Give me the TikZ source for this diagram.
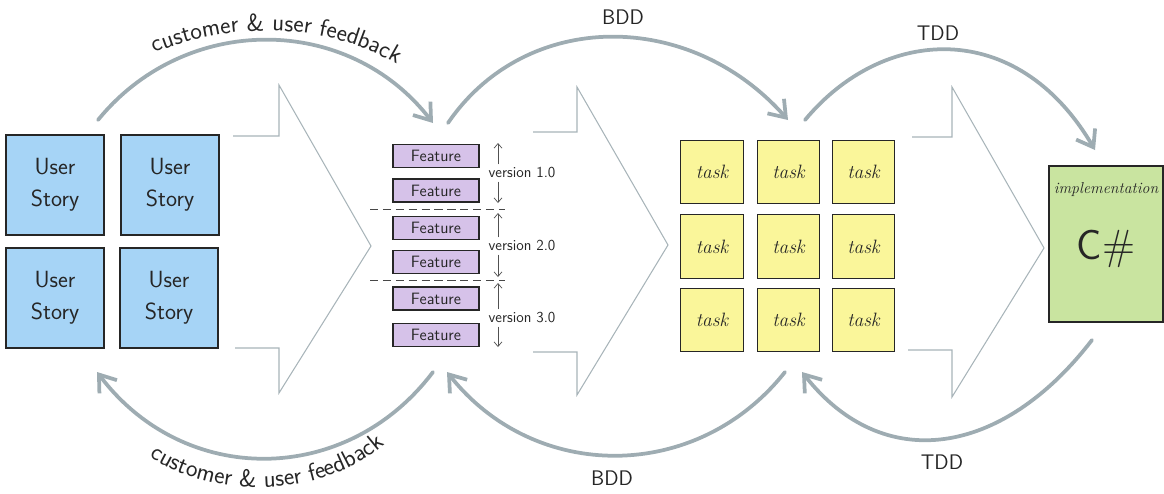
\documentclass[tikz,border=0pt]{standalone}
\usetikzlibrary{arrows.meta,decorations.text}

\definecolor{storyblue}{RGB}{166,212,246}
\definecolor{featpurple}{RGB}{214,194,233}
\definecolor{taskyellow}{RGB}{250,246,154}
\definecolor{implgreen}{RGB}{201,228,160}
\definecolor{loopgray}{RGB}{158,172,178}
\definecolor{chevron}{RGB}{168,180,185}
\definecolor{ink}{RGB}{38,38,38}

\tikzset{
  card/.style={draw=ink, line width=1.1pt, inner sep=0pt, text=ink},
  story/.style={card, fill=storyblue, minimum width=2.94cm, minimum height=3cm,
    align=center, font=\sffamily\fontsize{20}{27}\selectfont},
  feat/.style={card, fill=featpurple, minimum width=2.58cm, minimum height=0.69cm,
    font=\sffamily\fontsize{14}{14}\selectfont},
  taskbox/.style={card, fill=taskyellow, minimum width=1.88cm, minimum height=1.9cm,
    font=\itshape\fontsize{16.5}{16.5}\selectfont},
  impl/.style={card, fill=implgreen, minimum width=3.42cm, minimum height=4.68cm},
  loop/.style={draw=loopgray, line width=3.2pt, line cap=round,
    -{Straight Barb[length=4.6mm,width=6.6mm]}},
  chev/.style={draw=chevron, line width=0.9pt, line join=miter},
  vtext/.style={text=ink, inner sep=1pt, font=\sffamily\fontsize{13}{13}\selectfont},
  varrow/.style={draw=ink!80, line width=0.6pt, -{Straight Barb[length=1.4mm,width=2.4mm]}},
  sep/.style={draw=ink!85, line width=0.7pt, dash pattern=on 7pt off 4pt},
  looplabel/.style={text=ink, inner sep=0pt, font=\sffamily\fontsize{18}{18}\selectfont},
  arclabel/.style={decorate, decoration={text along path, text align=center,
    text color=ink, text={|\sffamily\fontsize{21}{21}\selectfont|#1}}},
}

\begin{document}
\begin{tikzpicture}[x=0.03cm, y=-0.03cm]
  \useasboundingbox (0,0) rectangle (1164,493);

  % block arrows between the stages
  \draw[chev] (233,136) -- (279,136) -- (279,85) -- (371,246) -- (279,393) -- (279,348) -- (235,348);
  \draw[chev] (533,132) -- (577,132) -- (577,87) -- (668,245) -- (577,395) -- (577,352) -- (533,352);
  \draw[chev] (912,137) -- (952,137) -- (952,87) -- (1044,248) -- (952,397) -- (952,350) -- (908,350);

  % user stories
  \node[story] (s1) at (55,185) {User\\Story};
  \node[story] (s2) at (170,185) {User\\Story};
  \node[story] (s3) at (55,298) {User\\Story};
  \node[story] (s4) at (169,298) {User\\Story};

  % features grouped into versions
  \node[feat] (f1) at (436,156) {Feature};
  \node[feat] (f2) at (436,190.5) {Feature};
  \node[feat] (f3) at (436,228) {Feature};
  \node[feat] (f4) at (436,262) {Feature};
  \node[feat] (f5) at (436,298.5) {Feature};
  \node[feat] (f6) at (436,335) {Feature};

  \draw[sep] (370,209) -- (505,209);
  \draw[sep] (370,280) -- (505,280);

  \node[vtext] (v1) at (522,173) {version 1.0};
  \node[vtext] (v2) at (522,246) {version 2.0};
  \node[vtext] (v3) at (522,318) {version 3.0};
  \foreach \v/\top/\bot in {v1/143/203, v2/213/277, v3/283/347} {
    \draw[varrow] (\v.north -| 498,0) ++(0,-2) -- (498,\top);
    \draw[varrow] (\v.south -| 498,0) ++(0,2) -- (498,\bot);
  }

  % tasks
  \foreach \c/\x in {1/712,2/788.5,3/863.5} {
    \foreach \r/\y in {1/172,2/246.5,3/320} {
      \node[taskbox] (t\r\c) at (\x,\y) {task};
    }
  }

  % implementation
  \node[impl] (impl) at (1106,244) {};
  \node[text=ink, font=\itshape\fontsize{13.5}{13.5}\selectfont] (impltitle) at (1106,190) {implementation};
  \node[text=ink, font=\sffamily\fontsize{36}{36}\selectfont] (cs) at (1106,249) {C\#};

  % loop end points
  \coordinate (a0) at (98,120);   \coordinate (a1) at (433,123);
  \coordinate (b0) at (448,123);  \coordinate (b1) at (788,120);
  \coordinate (c0) at (805,120);  \coordinate (c1) at (1095,150);
  \coordinate (d0) at (433,372);  \coordinate (d1) at (97,372);
  \coordinate (e0) at (785,372);  \coordinate (e1) at (447,372);
  \coordinate (g0) at (1092,340); \coordinate (g1) at (802,372);

  % forward loops
  \draw[loop] (a0) .. controls (185,13) and (348,13) .. (a1);
  \draw[loop] (b0) .. controls (526,9) and (690,9) .. (b1);
  \draw[loop] (c0) .. controls (883,26) and (1017,17) .. (c1);
  % feedback loops
  \draw[loop] (d0) .. controls (346,487) and (184,487) .. (d1);
  \draw[loop] (e0) .. controls (697,483) and (535,483) .. (e1);
  \draw[loop] (g0) .. controls (1002,457) and (883,475) .. (g1);

  % loop labels
  \path[arclabel={customer {\&} user feedback}] (136,62) .. controls (218,18) and (337,18) .. (414,76);
  \path[arclabel={customer {\&} user feedback}] (140,450) .. controls (205,502) and (330,502) .. (393,436);
  \node[looplabel] (bddtop) at (623,17) {BDD};
  \node[looplabel] (bddbot) at (612,478) {BDD};
  \node[looplabel] (tddtop) at (938,33) {TDD};
  \node[looplabel] (tddbot) at (942,462) {TDD};
\end{tikzpicture}
\end{document}
